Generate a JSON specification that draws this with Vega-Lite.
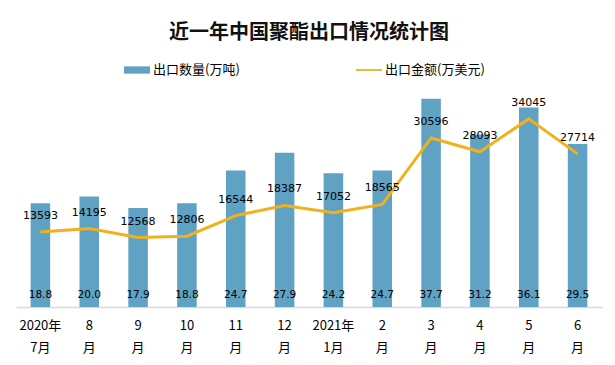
{
  "$schema": "https://vega.github.io/schema/vega-lite/v6.json",
  "autosize": "none",
  "width": 586,
  "height": 221,
  "padding": {"left": 16, "top": 86, "right": 13, "bottom": 58},
  "background": "white",
  "title": {
    "text": "近一年中国聚酯出口情况统计图",
    "font": "Noto Sans CJK SC",
    "fontSize": 20,
    "fontWeight": "bold",
    "color": "#111111",
    "anchor": "middle",
    "offset": 14
  },
  "config": {"view": {"stroke": null}},
  "data": {
    "values": [
      {"month": "2020年|7月", "qty": 18.8, "value": 13593},
      {"month": "8|月", "qty": 20.0, "value": 14195},
      {"month": "9|月", "qty": 17.9, "value": 12568},
      {"month": "10|月", "qty": 18.8, "value": 12806},
      {"month": "11|月", "qty": 24.7, "value": 16544},
      {"month": "12|月", "qty": 27.9, "value": 18387},
      {"month": "2021年|1月", "qty": 24.2, "value": 17052},
      {"month": "2|月", "qty": 24.7, "value": 18565},
      {"month": "3|月", "qty": 37.7, "value": 30596},
      {"month": "4|月", "qty": 31.2, "value": 28093},
      {"month": "5|月", "qty": 36.1, "value": 34045},
      {"month": "6|月", "qty": 29.5, "value": 27714}
    ]
  },
  "encoding": {
    "x": {
      "field": "month",
      "type": "nominal",
      "sort": null,
      "scale": {"paddingInner": 0.6, "paddingOuter": 0.3},
      "axis": {
        "title": null,
        "labelAngle": 0,
        "labelExpr": "split(datum.label, '|')",
        "labelFont": "Noto Sans CJK SC",
        "labelFontSize": 13,
        "labelColor": "#000000",
        "labelLineHeight": 22,
        "labelPadding": 12,
        "ticks": false,
        "domainColor": "#d9d9d9",
        "domainWidth": 1.5
      }
    }
  },
  "layer": [
    {
      "mark": {"type": "bar"},
      "encoding": {
        "y": {"field": "qty", "type": "quantitative", "scale": {"domain": [0, 40]}, "axis": null},
        "color": {
          "datum": "出口数量(万吨)",
          "type": "nominal",
          "scale": {"domain": ["出口数量(万吨)", "出口金额(万美元)"], "range": ["#5fa2c3", "#f2b11c"]},
          "legend": {
            "title": null,
            "orient": "none",
            "direction": "horizontal",
            "legendX": 108,
            "legendY": -29,
            "symbolSize": 676,
            "symbolType": "square",
            "symbolStrokeWidth": 0,
            "labelFont": "Noto Sans CJK SC",
            "labelFontSize": 13,
            "labelColor": "#000000",
            "labelOffset": 3,
            "columnPadding": 116,
            "encode": {
              "symbols": {
                "update": {
                  "shape": {"signal": "datum.value === '出口数量(万吨)' ? 'M-1,-0.28H1V0.28H-1Z' : 'M-1,-0.07H1V0.07H-1Z'"},
                  "fill": {"signal": "scale('color', datum.value)"},
                  "fillOpacity": {"value": 1},
                  "strokeWidth": {"value": 0}
                }
              }
            }
          }
        }
      }
    },
    {
      "mark": {"type": "text", "font": "DejaVu Sans", "fontSize": 10.5, "color": "#000000", "baseline": "middle", "dy": -12},
      "encoding": {
        "y": {"datum": 0, "type": "quantitative", "scale": {"domain": [0, 40]}, "axis": null},
        "text": {"field": "qty", "type": "quantitative", "format": ".1f"}
      }
    },
    {
      "mark": {"type": "line", "strokeWidth": 3},
      "encoding": {
        "y": {"field": "value", "type": "quantitative", "scale": {"domain": [0, 40000]}, "axis": null},
        "color": {"datum": "出口金额(万美元)", "type": "nominal"}
      }
    },
    {
      "mark": {"type": "text", "font": "DejaVu Sans", "fontSize": 11, "color": "#000000", "baseline": "middle", "dy": -16},
      "encoding": {
        "y": {"field": "value", "type": "quantitative", "scale": {"domain": [0, 40000]}, "axis": null},
        "text": {"field": "value", "type": "quantitative", "format": "d"}
      }
    }
  ],
  "resolve": {"scale": {"y": "independent"}}
}
